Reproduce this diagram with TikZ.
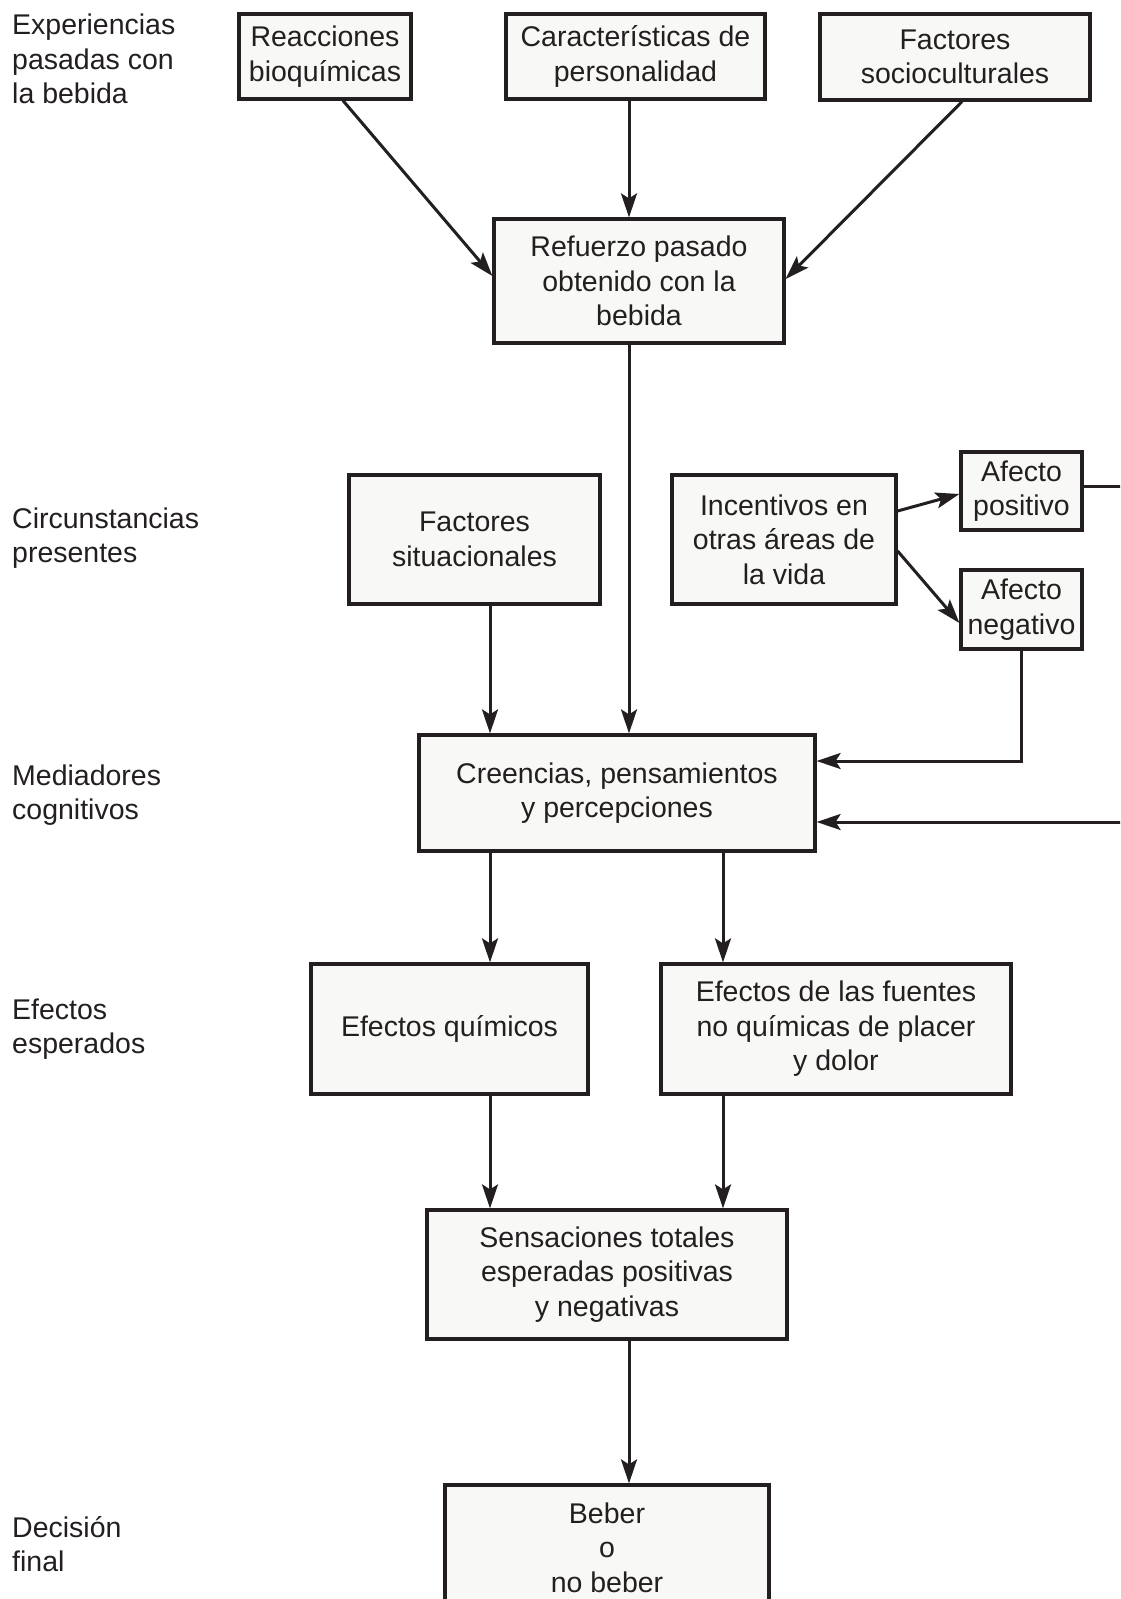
\documentclass[tikz,border=0pt]{standalone}
\usepackage{fontspec}
\setmainfont{Liberation Sans}
\usetikzlibrary{arrows.meta}
\definecolor{ink}{HTML}{231F20}
\definecolor{paper}{HTML}{F8F8F6}
\begin{document}
\begin{tikzpicture}[x=1pt,y=-1pt,
  every node/.style={text=ink, font=\fontsize{28.5}{34.5}\selectfont},
  stagebox/.style={draw=ink, fill=paper, line width=3.2pt, inner sep=0pt, align=center},
  rowlabel/.style={anchor=west, inner sep=0pt, align=left},
  arr/.style={draw=ink, line width=3pt, -{Stealth[length=24pt,width=16pt,inset=5pt]}}]
\clip (0,0) rectangle (1120,1599);
\fill[white] (0,0) rectangle (1120,1599);

% row labels on the left
\node[rowlabel] (l1) at (12,59)   {Experiencias\\pasadas con\\la bebida};
\node[rowlabel] (l2) at (12,538)  {Circunstancias\\presentes};
\node[rowlabel] (l3) at (12,795)  {Mediadores\\cognitivos};
\node[rowlabel] (l4) at (12,1029) {Efectos\\esperados};
\node[rowlabel] (l5) at (12,1544) {Decisión\\final};

% boxes
\node[stagebox, minimum width=172pt, minimum height=85pt]  (reac)  at (325,56.5)   {Reacciones\\bioquímicas};
\node[stagebox, minimum width=259pt, minimum height=85pt]  (carac) at (635.5,56.5) {Características de\\personalidad};
\node[stagebox, minimum width=270pt, minimum height=86pt]  (socio) at (955,57)     {Factores\\socioculturales};
\node[stagebox, minimum width=290pt, minimum height=124pt] (refu)  at (639,281)    {Refuerzo pasado\\obtenido con la\\bebida};
\node[stagebox, minimum width=251pt, minimum height=129pt] (situ)  at (474.5,539.5) {Factores\\situacionales};
\node[stagebox, minimum width=224pt, minimum height=129pt] (incen) at (784,539.5)  {Incentivos en\\otras áreas de\\la vida};
\node[stagebox, minimum width=121pt, minimum height=78pt]  (apos)  at (1021.5,491) {Afecto\\positivo};
\node[stagebox, minimum width=121pt, minimum height=79pt]  (aneg)  at (1021.5,609.5) {Afecto\\negativo};
\node[stagebox, minimum width=396pt, minimum height=116pt] (creen) at (617,793)    {Creencias, pensamientos\\y percepciones};
\node[stagebox, minimum width=277pt, minimum height=130pt] (equim) at (449.5,1029) {Efectos químicos};
\node[stagebox, minimum width=350pt, minimum height=130pt] (efuen) at (836,1029)   {Efectos de las fuentes\\no químicas de placer\\y dolor};
\node[stagebox, minimum width=360pt, minimum height=129pt] (sens)  at (607,1274.5) {Sensaciones totales\\esperadas positivas\\y negativas};
\node[stagebox, minimum width=324pt, minimum height=125pt] (beber) at (607,1547.5) {Beber\\o\\no beber};

% vertical columns of the straight connectors
\coordinate (colA) at (490,0);
\coordinate (colB) at (629,0);
\coordinate (colC) at (723,0);
\coordinate (edge) at (1140,0);

% top row into the reinforcement box
\draw[arr] ([xshift=18pt]reac.south) -- ([yshift=5pt]refu.west);
\draw[arr] (carac.south -| colB) -- (refu.north -| colB);
\draw[arr] ([xshift=7pt]socio.south) -- ([yshift=2pt]refu.east);

% into the cognitive mediators
\draw[arr] (refu.south -| colB) -- (creen.north -| colB);
\draw[arr] (situ.south -| colA) -- (creen.north -| colA);

% incentives split into the two affects
\draw[arr] ([yshift=28.5pt]incen.east) -- ([yshift=-3pt]apos.west);
\draw[arr] ([yshift=-11.5pt]incen.east) -- ([yshift=-13.5pt]aneg.west);

% affects feed back into the mediators
\draw[arr] (aneg.south) |- ([yshift=32pt]creen.east);
\coordinate (pin) at ([yshift=5pt]apos.east);
\coordinate (pout) at ([yshift=-29pt]creen.east);
\draw[arr] (pin) -- (pin -| edge) -- (pout -| edge) -- (pout);

% expected effects
\draw[arr] (creen.south -| colA) -- (equim.north -| colA);
\draw[arr] (creen.south -| colC) -- (efuen.north -| colC);
\draw[arr] (equim.south -| colA) -- (sens.north -| colA);
\draw[arr] (efuen.south -| colC) -- (sens.north -| colC);

% final decision
\draw[arr] (sens.south -| colB) -- (beber.north -| colB);
\end{tikzpicture}
\end{document}
